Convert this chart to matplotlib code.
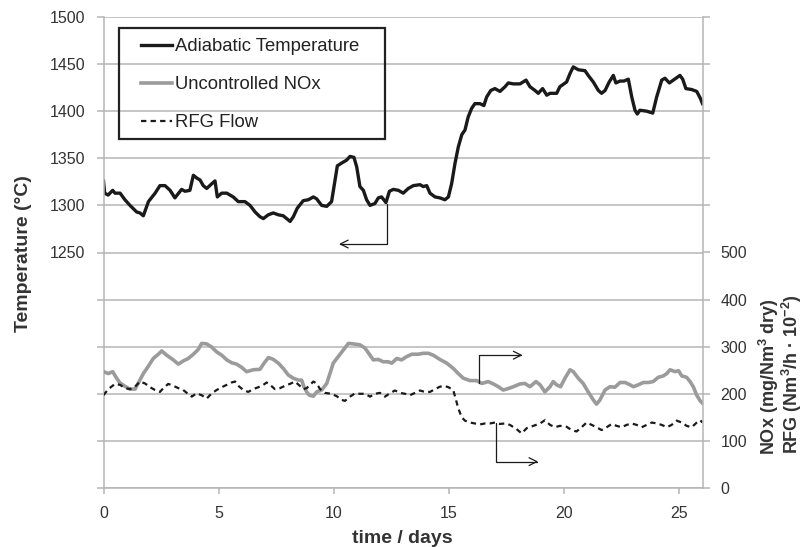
import numpy as np
import matplotlib
matplotlib.use("Agg")
import matplotlib.pyplot as plt
from matplotlib.patches import Rectangle

plt.rcParams['font.family'] = ['Liberation Sans', 'DejaVu Sans']
plt.rcParams['mathtext.fontset'] = 'custom'
plt.rcParams['mathtext.rm'] = 'Liberation Sans'
plt.rcParams['mathtext.bf'] = 'Liberation Sans:bold'
plt.rcParams['mathtext.it'] = 'Liberation Sans:italic'

# ---------------- data ----------------
temp_days = [0.0, 0.05, 0.2, 0.4, 0.5, 0.72, 0.93, 1.15, 1.44, 1.58, 1.73, 1.95, 2.24, 2.45, 2.67, 2.89,
             3.1, 3.39, 3.54, 3.75, 3.9, 4.05, 4.19, 4.33, 4.48, 4.7, 4.84, 4.94, 5.13, 5.35, 5.63, 5.85,
             6.14, 6.36, 6.58, 6.79, 6.94, 7.15, 7.37, 7.59, 7.8, 7.95, 8.1, 8.24, 8.41, 8.67, 8.89, 9.11,
             9.25, 9.47, 9.69, 9.9, 10.05, 10.15, 10.34, 10.55, 10.7, 10.87, 10.99, 11.13, 11.28, 11.42,
             11.57, 11.78, 11.93, 12.07, 12.26, 12.41, 12.58, 12.8, 13.01, 13.23, 13.45, 13.74, 13.88,
             14.03, 14.17, 14.39, 14.6, 14.82, 14.97, 15.11, 15.26, 15.4, 15.55, 15.69, 15.83, 15.98,
             16.12, 16.34, 16.51, 16.63, 16.81, 16.99, 17.21, 17.43, 17.57, 17.79, 18.08, 18.34, 18.51,
             18.73, 18.87, 19.06, 19.24, 19.38, 19.67, 19.81, 20.1, 20.25, 20.39, 20.61, 20.9, 21.04,
             21.26, 21.48, 21.62, 21.77, 21.95, 22.13, 22.24, 22.42, 22.59, 22.78, 22.93, 23.07, 23.17,
             23.28, 23.58, 23.84, 24.01, 24.23, 24.37, 24.56, 24.73, 25.02, 25.14, 25.28, 25.53, 25.75,
             25.9, 26.0]
temp_values = [1326, 1313, 1311, 1316, 1313, 1313, 1306, 1300, 1293, 1292, 1289, 1304, 1313, 1321, 1321, 1316,
               1308, 1317, 1315, 1316, 1332, 1329, 1327, 1321, 1318, 1323, 1326, 1309, 1313, 1313, 1309, 1304,
               1304, 1300, 1293, 1288, 1286, 1290, 1292, 1290, 1289, 1286, 1283, 1288, 1297, 1305, 1306, 1309,
               1307, 1300, 1299, 1304, 1327, 1342, 1345, 1348, 1352, 1351, 1341, 1320, 1316, 1306,
               1300, 1302, 1308, 1309, 1303, 1315, 1317, 1316, 1313, 1318, 1321, 1322, 1320,
               1321, 1313, 1309, 1308, 1306, 1309, 1323, 1345, 1362, 1375, 1380, 1394, 1403,
               1408, 1408, 1406, 1415, 1422, 1424, 1421, 1426, 1430, 1429, 1429, 1433, 1426,
               1422, 1419, 1424, 1417, 1419, 1419, 1426, 1431, 1440, 1447, 1444, 1443, 1438,
               1431, 1422, 1419, 1422, 1431, 1438, 1430, 1432, 1432, 1434, 1415, 1401, 1397,
               1401, 1400, 1398, 1415, 1433, 1435, 1430, 1433, 1438, 1434, 1424, 1423, 1421,
               1414, 1408]

nox_days = [0.0, 0.21, 0.4, 0.57, 0.72, 0.93, 1.15, 1.37, 1.51, 1.73, 1.94, 2.16, 2.38, 2.53, 2.74, 3.03,
            3.25, 3.47, 3.68, 3.9, 4.11, 4.26, 4.48, 4.7, 4.91, 5.13, 5.35, 5.56, 5.78, 6.0, 6.21, 6.5,
            6.79, 6.97, 7.16, 7.37, 7.59, 7.8, 8.02, 8.24, 8.46, 8.6, 8.7, 8.82, 8.93, 9.11, 9.25, 9.47,
            9.69, 9.83, 9.97, 10.19, 10.41, 10.63, 10.84, 11.13, 11.35, 11.57, 11.71, 11.93, 12.14, 12.36,
            12.51, 12.73, 12.94, 13.16, 13.38, 13.66, 13.88, 14.1, 14.31, 14.6, 14.9, 15.18, 15.4, 15.62,
            15.91, 16.2, 16.42, 16.7, 16.92, 17.14, 17.35, 17.5, 17.79, 18.08, 18.29, 18.51, 18.77, 18.95,
            19.16, 19.38, 19.52, 19.67, 19.84, 20.03, 20.25, 20.39, 20.61, 20.82, 21.04, 21.26, 21.4,
            21.55, 21.77, 21.98, 22.2, 22.42, 22.64, 22.86, 23.0, 23.21, 23.43, 23.65, 23.86, 24.08, 24.3,
            24.45, 24.59, 24.81, 24.96, 25.1, 25.31, 25.46, 25.6, 25.75, 25.9, 26.0]
nox_values = [247, 243, 247, 233, 223, 216, 210, 210, 223, 243, 258, 275, 284, 291, 282, 272,
              263, 270, 275, 284, 294, 307, 306, 299, 289, 282, 272, 266, 263, 256, 247, 251,
              252, 265, 277, 273, 265, 254, 240, 233, 229, 229, 215, 204, 197, 195, 204, 208,
              222, 243, 265, 279, 293, 307, 306, 304, 297, 282, 272, 273, 268, 268,
              265, 275, 272, 279, 284, 284, 286, 286, 282, 273, 265, 254, 243, 233,
              228, 228, 222, 226, 221, 215, 208, 210, 215, 221, 222, 215, 226, 219,
              204, 215, 226, 219, 215, 233, 251, 247, 233, 222, 204, 187, 178,
              187, 208, 215, 214, 224, 224, 219, 215, 219, 224, 224, 226, 235, 238,
              243, 251, 247, 249, 238, 235, 226, 215, 197, 185, 180]

rfg_days = [0.0, 0.21, 0.5, 0.72, 0.93, 1.15, 1.37, 1.58, 1.8, 2.02, 2.24, 2.45, 2.6, 2.81, 3.03, 3.25,
            3.46, 3.64, 3.83, 4.04, 4.26, 4.48, 4.7, 4.91, 5.13, 5.35, 5.56, 5.71, 5.85, 6.07, 6.28, 6.5,
            6.72, 6.94, 7.08, 7.23, 7.44, 7.66, 7.88, 8.09, 8.31, 8.52, 8.67, 8.82, 9.11, 9.25, 9.4, 9.61,
            9.9, 10.12, 10.34, 10.48, 10.7, 10.92, 11.13, 11.35, 11.57, 11.78, 12.0, 12.22, 12.43, 12.65,
            12.87, 13.09, 13.3, 13.52, 13.74, 13.95, 14.17, 14.39, 14.6, 14.78, 14.97, 15.18, 15.26, 15.4,
            15.55, 15.69, 15.91, 16.12, 16.34, 16.56, 16.77, 16.99, 17.21, 17.43, 17.64, 17.93, 18.15,
            18.37, 18.66, 18.95, 19.16, 19.38, 19.6, 19.81, 20.1, 20.32, 20.53, 20.75, 20.97, 21.19,
            21.4, 21.62, 21.84, 22.06, 22.27, 22.49, 22.71, 22.93, 23.14, 23.36, 23.58, 23.8, 24.01,
            24.23, 24.45, 24.66, 24.88, 25.1, 25.31, 25.53, 25.75, 25.9, 26.0]
rfg_values = [197, 210, 221, 219, 212, 210, 215, 226, 222, 214, 208, 204, 212, 221, 217, 212,
              208, 201, 194, 201, 197, 190, 201, 208, 214, 219, 224, 226, 217, 208, 204, 210,
              214, 219, 224, 219, 210, 212, 217, 221, 226, 217, 210, 212, 226, 222, 210, 202,
              200, 195, 187, 185, 194, 201, 200, 200, 194, 200, 202, 194, 201, 207,
              202, 200, 197, 202, 207, 204, 204, 210, 215, 217, 214, 208, 194, 169,
              150, 143, 139, 137, 135, 137, 137, 139, 136, 137, 134, 125, 116,
              127, 132, 137, 144, 134, 129, 132, 130, 123, 120, 129, 139, 134,
              129, 123, 129, 136, 132, 129, 134, 137, 134, 129, 134, 139, 137,
              134, 129, 134, 143, 139, 132, 129, 139, 144, 139]

x_ticks = [0, 5, 10, 15, 20, 25]
temp_ticks = [1000, 1050, 1100, 1150, 1200, 1250, 1300, 1350, 1400, 1450, 1500]
temp_tick_labels = ['', '', '', '', '', '1250', '1300', '1350', '1400', '1450', '1500']
right_ticks = [0, 100, 200, 300, 400, 500, 600, 700, 800, 900, 1000]
right_tick_labels = ['0', '100', '200', '300', '400', '500', '', '', '', '', '']

series_labels = ['Adiabatic Temperature', 'Uncontrolled NOx', 'RFG Flow']

# annotation arrows: (start x, start y, tip x, tip y)
temp_arrow = (12.29, 1302, 10.22, 1259)
nox_arrow = (16.30, 223, 18.19, 282)
rfg_arrow = (17.03, 137, 18.87, 56)

# ---------------- figure ----------------
W, H = 805, 547
fig = plt.figure(figsize=(W / 100, H / 100), dpi=100)
L, R, T, B = 103.5, 702.5, 17, 488
ax = fig.add_axes([L / W, 1 - B / H, (R - L) / W, (B - T) / H])
ax2 = ax.twinx()

grid_c = '#b5b5b5'
txt_c = '#333333'

ax.set_xlim(0, 26)
ax.set_ylim(1000, 1500)
ax2.set_ylim(0, 1000)

ax.set_xticks(x_ticks)
ax.set_yticks(temp_ticks)
ax.set_yticklabels(temp_tick_labels)
ax2.set_yticks(right_ticks)
ax2.set_yticklabels(right_tick_labels)

ax.set_axisbelow(True)
ax.grid(axis='y', color=grid_c, linewidth=1.1)
ax.grid(axis='x', visible=False)
ax2.grid(False)

for a in (ax, ax2):
    for s in a.spines.values():
        s.set_visible(False)
ax.spines['left'].set_visible(True)
ax.spines['left'].set_color(grid_c)
ax.spines['bottom'].set_visible(True)
ax.spines['bottom'].set_color(grid_c)
ax2.spines['right'].set_visible(True)
ax2.spines['right'].set_color(grid_c)
for s in (ax.spines['left'], ax.spines['bottom'], ax2.spines['right']):
    s.set_linewidth(1.1)

ax.tick_params(axis='y', length=5, width=1.1, color=grid_c, labelsize=11.5, labelcolor=txt_c, pad=8)
ax.tick_params(axis='x', length=4, width=1.1, color=grid_c, labelsize=11.5, labelcolor=txt_c, pad=9)
ax2.tick_params(axis='y', length=5, width=1.1, color=grid_c, labelsize=11.5, labelcolor=txt_c, pad=8)

l1, = ax.plot(temp_days, temp_values, color='#1a1a1a', lw=2.4, solid_joinstyle='round',
              label=series_labels[0])
l2, = ax2.plot(nox_days, nox_values, color='#9b9b9b', lw=2.6, solid_joinstyle='round',
               label=series_labels[1])
l3, = ax2.plot(rfg_days, rfg_values, color='#1a1a1a', lw=1.6, linestyle=(0, (2.4, 1.9)),
               label=series_labels[2])

arrow_kw = dict(arrowstyle='->', color='#1a1a1a', lw=0.9, shrinkA=0, shrinkB=0,
                mutation_scale=14, connectionstyle='angle,angleA=90,angleB=0,rad=0')
ax.annotate('', xy=temp_arrow[2:], xytext=temp_arrow[:2], arrowprops=arrow_kw)
ax2.annotate('', xy=nox_arrow[2:], xytext=nox_arrow[:2], arrowprops=arrow_kw)
ax2.annotate('', xy=rfg_arrow[2:], xytext=rfg_arrow[:2], arrowprops=arrow_kw)

# legend with a square frame
leg = ax2.legend(handles=[l1, l2, l3], loc='upper left', frameon=False,
                 bbox_to_anchor=((141 - L) / (R - L), (B - 38) / (B - T)),
                 borderpad=0, borderaxespad=0, fontsize=13.3, handlelength=1.7,
                 handletextpad=0.15, labelspacing=1.15)
for t in leg.get_texts():
    t.set_color('#222222')
frame = Rectangle(((119 - L) / (R - L), (B - 139) / (B - T)), (385 - 119) / (R - L), (139 - 28) / (B - T),
                  transform=ax2.transAxes, fill=False, edgecolor='#222222', lw=1.6, zorder=5)
ax2.add_patch(frame)

# axis titles
fig.text(402 / W, 1 - 543 / H, 'time / days', ha='center', va='baseline', fontsize=14,
         fontweight='bold', color=txt_c)
fig.text(24 / W, 1 - 254 / H, 'Temperature (°C)', ha='center', va='center', rotation=90,
         fontsize=14, fontweight='bold', color=txt_c)
fig.text(769 / W, 1 - 377 / H, r'NOx (mg/Nm$^{\mathbf{3}}$ dry)', ha='center', va='center', rotation=90,
         fontsize=13, fontweight='bold', color=txt_c)
fig.text(792 / W, 1 - 374 / H, r'RFG (Nm$^{\mathbf{3}}$/h · 10$^{\mathbf{-2}}$)', ha='center', va='center',
         rotation=90, fontsize=13, fontweight='bold', color=txt_c)

fig.savefig('out.png', dpi=100)
